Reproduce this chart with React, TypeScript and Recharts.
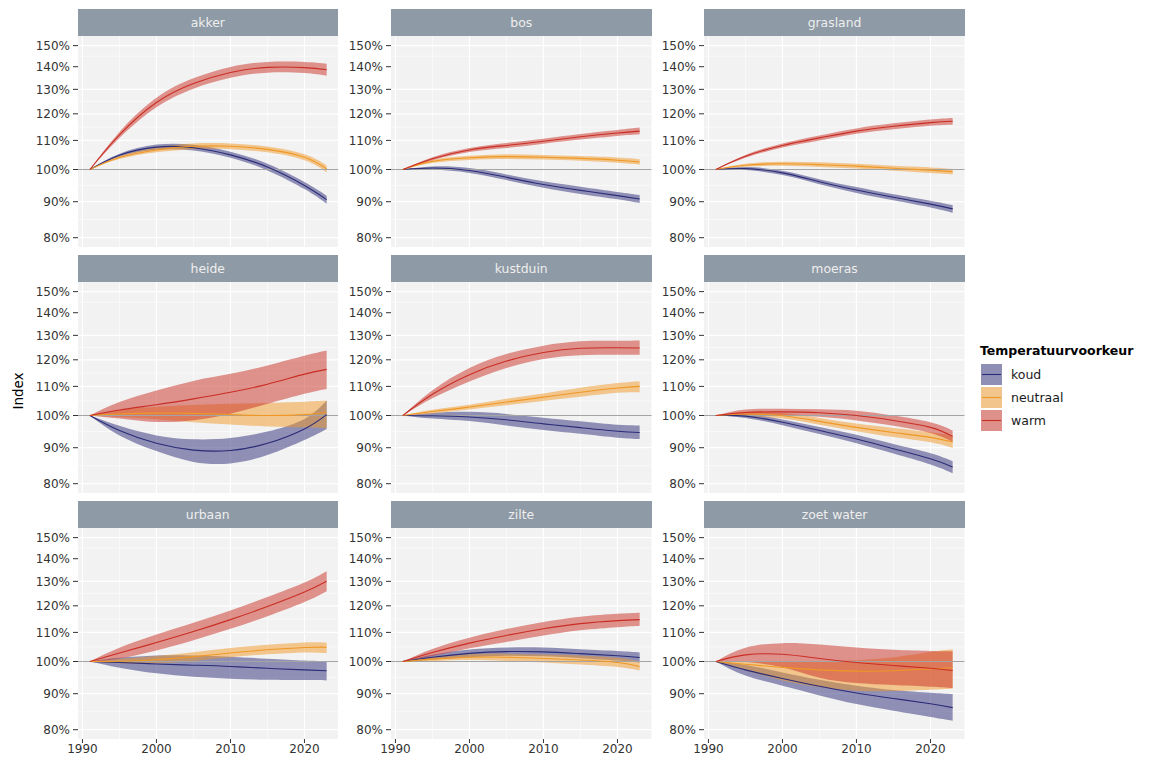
import React from 'react';
import { ComposedChart, Area, Line, XAxis, YAxis, CartesianGrid, ReferenceLine } from 'recharts';

const YEARS = [1991, 1995, 2000, 2005, 2010, 2015, 2020, 2023];
const Y_TICKS = [0.8, 0.9, 1.0, 1.1, 1.2, 1.3, 1.4, 1.5];
const Y_MINOR = [0.8485, 0.9487, 1.0488, 1.1489, 1.249, 1.3491, 1.4491];
const X_TICKS = [1990, 2000, 2010, 2020];
const X_MINOR = [1995, 2005, 2015];
const SERIES = ['koud', 'neutraal', 'warm'];
const COLORS: Record<string, string> = { koud: '#2b2b78', neutraal: '#ef9826', warm: '#c92e24' };

// akker
const akkerKoud = [1, 1.048, 1.076, 1.074, 1.049, 1.008, 0.949, 0.906];
const akkerKoudLo = [1, 1.043, 1.067, 1.064, 1.039, 0.997, 0.938, 0.894];
const akkerKoudHi = [1, 1.053, 1.085, 1.084, 1.06, 1.019, 0.96, 0.918];
const akkerNeutraal = [1, 1.04, 1.066, 1.079, 1.079, 1.068, 1.041, 1.002];
const akkerNeutraalLo = [1, 1.035, 1.058, 1.069, 1.069, 1.058, 1.031, 0.991];
const akkerNeutraalHi = [1, 1.045, 1.075, 1.089, 1.089, 1.078, 1.051, 1.013];
const akkerWarm = [1, 1.12, 1.245, 1.325, 1.374, 1.397, 1.396, 1.386];
const akkerWarmLo = [1, 1.109, 1.226, 1.303, 1.35, 1.373, 1.371, 1.359];
const akkerWarmHi = [1, 1.131, 1.265, 1.348, 1.399, 1.422, 1.422, 1.414];

// bos
const bosKoud = [1, 1.005, 0.997, 0.975, 0.952, 0.934, 0.918, 0.908];
const bosKoudLo = [1, 1.0, 0.989, 0.966, 0.942, 0.923, 0.907, 0.896];
const bosKoudHi = [1, 1.01, 1.005, 0.984, 0.962, 0.945, 0.929, 0.92];
const bosNeutraal = [1, 1.027, 1.039, 1.043, 1.041, 1.037, 1.031, 1.025];
const bosNeutraalLo = [1, 1.022, 1.032, 1.035, 1.033, 1.029, 1.022, 1.016];
const bosNeutraalHi = [1, 1.032, 1.046, 1.051, 1.049, 1.045, 1.04, 1.034];
const bosWarm = [1, 1.036, 1.066, 1.082, 1.097, 1.113, 1.127, 1.134];
const bosWarmLo = [1, 1.031, 1.059, 1.073, 1.088, 1.103, 1.116, 1.122];
const bosWarmHi = [1, 1.041, 1.073, 1.091, 1.106, 1.123, 1.138, 1.147];

// grasland
const graslandKoud = [1, 1.003, 0.989, 0.961, 0.935, 0.913, 0.893, 0.879];
const graslandKoudLo = [1, 0.998, 0.982, 0.953, 0.926, 0.904, 0.883, 0.868];
const graslandKoudHi = [1, 1.008, 0.996, 0.969, 0.944, 0.922, 0.903, 0.89];
const graslandNeutraal = [1, 1.014, 1.019, 1.016, 1.011, 1.004, 0.998, 0.993];
const graslandNeutraalLo = [1, 1.009, 1.012, 1.008, 1.003, 0.996, 0.989, 0.984];
const graslandNeutraalHi = [1, 1.019, 1.026, 1.024, 1.019, 1.012, 1.007, 1.002];
const graslandWarm = [1, 1.044, 1.082, 1.109, 1.134, 1.152, 1.166, 1.171];
const graslandWarmLo = [1, 1.039, 1.075, 1.1, 1.124, 1.141, 1.154, 1.158];
const graslandWarmHi = [1, 1.049, 1.089, 1.118, 1.144, 1.163, 1.178, 1.184];

// heide
const heideKoud = [1, 0.952, 0.913, 0.893, 0.892, 0.913, 0.957, 1.003];
const heideKoudLo = [1, 0.937, 0.89, 0.859, 0.855, 0.879, 0.923, 0.957];
const heideKoudHi = [1, 0.967, 0.937, 0.925, 0.929, 0.949, 0.989, 1.05];
const heideNeutraal = [1, 1.005, 1.008, 1.007, 1.003, 1.0, 1.003, 1.01];
const heideNeutraalLo = [1, 0.995, 0.988, 0.978, 0.971, 0.965, 0.962, 0.959];
const heideNeutraalHi = [1, 1.018, 1.029, 1.035, 1.039, 1.042, 1.046, 1.05];
const heideWarm = [1, 1.018, 1.036, 1.056, 1.079, 1.108, 1.145, 1.163];
const heideWarmLo = [1, 0.99, 0.979, 0.985, 1.006, 1.039, 1.074, 1.091];
const heideWarmHi = [1, 1.045, 1.085, 1.12, 1.146, 1.178, 1.216, 1.237];

// kustduin
const kustduinKoud = [1, 0.999, 0.995, 0.986, 0.973, 0.961, 0.95, 0.946];
const kustduinKoudLo = [1, 0.99, 0.982, 0.968, 0.954, 0.942, 0.93, 0.926];
const kustduinKoudHi = [1, 1.008, 1.012, 1.005, 0.993, 0.981, 0.97, 0.968];
const kustduinNeutraal = [1, 1.013, 1.028, 1.045, 1.062, 1.079, 1.094, 1.1];
const kustduinNeutraalLo = [1, 1.007, 1.02, 1.034, 1.049, 1.063, 1.077, 1.079];
const kustduinNeutraalHi = [1, 1.019, 1.036, 1.056, 1.075, 1.095, 1.112, 1.119];
const kustduinWarm = [1, 1.072, 1.143, 1.195, 1.229, 1.246, 1.248, 1.247];
const kustduinWarmLo = [1, 1.058, 1.118, 1.168, 1.203, 1.218, 1.22, 1.22];
const kustduinWarmHi = [1, 1.086, 1.168, 1.223, 1.257, 1.275, 1.277, 1.278];

// moeras
const moerasKoud = [1, 0.998, 0.978, 0.952, 0.926, 0.897, 0.868, 0.845];
const moerasKoudLo = [1, 0.992, 0.969, 0.941, 0.913, 0.883, 0.852, 0.828];
const moerasKoudHi = [1, 1.004, 0.987, 0.963, 0.939, 0.911, 0.884, 0.861];
const moerasNeutraal = [1, 1.005, 0.999, 0.981, 0.962, 0.946, 0.931, 0.917];
const moerasNeutraalLo = [1, 0.998, 0.99, 0.97, 0.95, 0.932, 0.916, 0.899];
const moerasNeutraalHi = [1, 1.012, 1.008, 0.992, 0.974, 0.96, 0.947, 0.937];
const moerasWarm = [1, 1.01, 1.012, 1.009, 1.0, 0.984, 0.962, 0.934];
const moerasWarmLo = [1, 1.0, 1.0, 0.996, 0.984, 0.967, 0.944, 0.917];
const moerasWarmHi = [1, 1.02, 1.022, 1.021, 1.016, 1.0, 0.978, 0.952];

// urbaan
const urbaanKoud = [1, 0.997, 0.992, 0.988, 0.984, 0.978, 0.973, 0.97];
const urbaanKoudLo = [1, 0.98, 0.962, 0.951, 0.945, 0.942, 0.941, 0.94];
const urbaanKoudHi = [1, 1.012, 1.02, 1.02, 1.016, 1.009, 1.003, 1.001];
const urbaanNeutraal = [1, 1.001, 1.006, 1.016, 1.028, 1.039, 1.047, 1.048];
const urbaanNeutraalLo = [1, 0.994, 0.994, 1.002, 1.014, 1.024, 1.03, 1.028];
const urbaanNeutraalHi = [1, 1.008, 1.018, 1.031, 1.045, 1.056, 1.064, 1.064];
const urbaanWarm = [1, 1.028, 1.064, 1.103, 1.147, 1.197, 1.255, 1.3];
const urbaanWarmLo = [1, 1.01, 1.037, 1.072, 1.113, 1.16, 1.215, 1.259];
const urbaanWarmHi = [1, 1.046, 1.092, 1.135, 1.182, 1.235, 1.295, 1.344];

// zilte
const zilteKoud = [1, 1.014, 1.027, 1.033, 1.032, 1.026, 1.019, 1.013];
const zilteKoudLo = [1, 1.006, 1.014, 1.019, 1.017, 1.011, 1.003, 0.997];
const zilteKoudHi = [1, 1.022, 1.04, 1.047, 1.047, 1.041, 1.035, 1.03];
const zilteNeutraal = [1, 1.008, 1.014, 1.014, 1.01, 1.005, 0.997, 0.984];
const zilteNeutraalLo = [1, 1.002, 1.005, 1.002, 0.997, 0.99, 0.982, 0.971];
const zilteNeutraalHi = [1, 1.014, 1.024, 1.026, 1.023, 1.02, 1.012, 1.0];
const zilteWarm = [1, 1.03, 1.062, 1.089, 1.113, 1.132, 1.143, 1.147];
const zilteWarmLo = [1, 1.018, 1.044, 1.066, 1.089, 1.108, 1.119, 1.124];
const zilteWarmHi = [1, 1.042, 1.081, 1.112, 1.138, 1.158, 1.169, 1.173];

// zoet water
const zoetKoud = [1, 0.973, 0.946, 0.922, 0.902, 0.886, 0.871, 0.86];
const zoetKoudLo = [1, 0.955, 0.924, 0.895, 0.87, 0.851, 0.834, 0.824];
const zoetKoudHi = [1, 0.989, 0.965, 0.942, 0.924, 0.911, 0.903, 0.899];
const zoetNeutraal = [1, 0.991, 0.981, 0.973, 0.969, 0.97, 0.976, 0.98];
const zoetNeutraalLo = [1, 0.972, 0.94, 0.92, 0.909, 0.908, 0.912, 0.915];
const zoetNeutraalHi = [1, 0.999, 1.0, 1.0, 1.004, 1.014, 1.032, 1.041];
const zoetWarm = [1, 1.022, 1.024, 1.01, 0.997, 0.987, 0.978, 0.971];
const zoetWarmLo = [1, 0.998, 0.981, 0.948, 0.932, 0.926, 0.921, 0.917];
const zoetWarmHi = [1, 1.046, 1.062, 1.057, 1.047, 1.039, 1.035, 1.034];

const PANELS = [
  { name: 'akker', koud: [akkerKoud, akkerKoudLo, akkerKoudHi], neutraal: [akkerNeutraal, akkerNeutraalLo, akkerNeutraalHi], warm: [akkerWarm, akkerWarmLo, akkerWarmHi] },
  { name: 'bos', koud: [bosKoud, bosKoudLo, bosKoudHi], neutraal: [bosNeutraal, bosNeutraalLo, bosNeutraalHi], warm: [bosWarm, bosWarmLo, bosWarmHi] },
  { name: 'grasland', koud: [graslandKoud, graslandKoudLo, graslandKoudHi], neutraal: [graslandNeutraal, graslandNeutraalLo, graslandNeutraalHi], warm: [graslandWarm, graslandWarmLo, graslandWarmHi] },
  { name: 'heide', koud: [heideKoud, heideKoudLo, heideKoudHi], neutraal: [heideNeutraal, heideNeutraalLo, heideNeutraalHi], warm: [heideWarm, heideWarmLo, heideWarmHi] },
  { name: 'kustduin', koud: [kustduinKoud, kustduinKoudLo, kustduinKoudHi], neutraal: [kustduinNeutraal, kustduinNeutraalLo, kustduinNeutraalHi], warm: [kustduinWarm, kustduinWarmLo, kustduinWarmHi] },
  { name: 'moeras', koud: [moerasKoud, moerasKoudLo, moerasKoudHi], neutraal: [moerasNeutraal, moerasNeutraalLo, moerasNeutraalHi], warm: [moerasWarm, moerasWarmLo, moerasWarmHi] },
  { name: 'urbaan', koud: [urbaanKoud, urbaanKoudLo, urbaanKoudHi], neutraal: [urbaanNeutraal, urbaanNeutraalLo, urbaanNeutraalHi], warm: [urbaanWarm, urbaanWarmLo, urbaanWarmHi] },
  { name: 'zilte', koud: [zilteKoud, zilteKoudLo, zilteKoudHi], neutraal: [zilteNeutraal, zilteNeutraalLo, zilteNeutraalHi], warm: [zilteWarm, zilteWarmLo, zilteWarmHi] },
  { name: 'zoet water', koud: [zoetKoud, zoetKoudLo, zoetKoudHi], neutraal: [zoetNeutraal, zoetNeutraalLo, zoetNeutraalHi], warm: [zoetWarm, zoetWarmLo, zoetWarmHi] },
];

const FONT = '"DejaVu Sans", Verdana, sans-serif';
const COL_LEFT = [77.5, 391, 704.3];
const ROW_TOP = [35.5, 281.5, 527.5];
const PLOT_W = 260.5;
const PLOT_H = 211;
const YAXIS_W = 60;
const STRIP_H = 27;
const PANEL_BG = '#f2f2f2';
const CURVE = 'natural';

const pct = (v: number) => `${Math.round(v * 100)}%`;

function Panel({ panel, idx }: { panel: any; idx: number }) {
  const col = idx % 3;
  const row = Math.floor(idx / 3);
  const bottom = row === 2;
  const data = YEARS.map((year, i) => {
    const o: any = { year };
    SERIES.forEach((s) => {
      o[s] = panel[s][0][i];
      o[s + 'R'] = [panel[s][1][i], panel[s][2][i]];
    });
    return o;
  });
  const left = COL_LEFT[col];
  const top = ROW_TOP[row];
  return (
    <>
      <div
        style={{
          position: 'absolute',
          left,
          top: top - STRIP_H,
          width: PLOT_W,
          height: STRIP_H,
          background: '#8e9aa5',
          color: '#eeeeee',
          fontFamily: FONT,
          fontSize: 12.4,
          lineHeight: `${STRIP_H}px`,
          textAlign: 'center',
        }}
      >
        {panel.name}
      </div>
      <div style={{ position: 'absolute', left: left - YAXIS_W, top }}>
        <ComposedChart
          width={YAXIS_W + PLOT_W}
          height={PLOT_H + (bottom ? 26 : 0)}
          data={data}
          margin={{ top: 0, right: 0, bottom: 0, left: 0 }}
        >
          <CartesianGrid
            fill={PANEL_BG}
            fillOpacity={1}
            stroke="#ffffff"
            strokeWidth={0.6}
            horizontalValues={Y_MINOR}
            verticalValues={X_MINOR}
          />
          <CartesianGrid
            stroke="#ffffff"
            strokeWidth={1.2}
            horizontalValues={Y_TICKS}
            verticalValues={X_TICKS}
          />
          <XAxis
            dataKey="year"
            type="number"
            domain={[1989.4, 2024.6]}
            allowDataOverflow
            ticks={X_TICKS}
            hide={!bottom}
            height={26}
            axisLine={false}
            tickLine={{ stroke: '#333333' }}
            tickSize={4}
            tickMargin={1}
            tick={{ fill: '#333333', fontSize: 12, fontFamily: FONT }}
          />
          <YAxis
            scale="log"
            type="number"
            domain={[0.776, 1.548]}
            allowDataOverflow
            ticks={Y_TICKS}
            tickFormatter={pct}
            width={YAXIS_W}
            axisLine={false}
            tickLine={{ stroke: '#333333' }}
            tickSize={5}
            tickMargin={3}
            tick={{ fill: '#333333', fontSize: 12, fontFamily: FONT }}
          />
          {SERIES.map((s) => (
            <Area
              key={s + 'R'}
              dataKey={s + 'R'}
              type={CURVE}
              stroke="none"
              fill={COLORS[s]}
              fillOpacity={0.5}
              isAnimationActive={false}
              dot={false}
              activeDot={false}
            />
          ))}
          <ReferenceLine y={1} stroke="#a4a4a4" strokeWidth={1.2} />
          {SERIES.map((s) => (
            <Line
              key={s}
              dataKey={s}
              type={CURVE}
              stroke={COLORS[s]}
              strokeWidth={1.1}
              dot={false}
              activeDot={false}
              isAnimationActive={false}
            />
          ))}
        </ComposedChart>
      </div>
    </>
  );
}

function Legend() {
  const items = ['koud', 'neutraal', 'warm'];
  return (
    <svg
      width={1152}
      height={768}
      style={{ position: 'absolute', left: 0, top: 0, pointerEvents: 'none' }}
    >
      <text
        x={18}
        y={391}
        transform="rotate(-90 18 391)"
        textAnchor="middle"
        dominantBaseline="central"
        fontFamily={FONT}
        fontSize={13.5}
        fill="#000000"
      >
        Index
      </text>
      <text x={980} y={350} dominantBaseline="central" fontFamily={FONT} fontSize={12.5} fontWeight="bold" fill="#000000">
        Temperatuurvoorkeur
      </text>
      {items.map((s, i) => {
        const y = 364 + i * 23;
        return (
          <g key={s}>
            <rect x={981} y={y} width={21} height={21} fill={PANEL_BG} />
            <rect x={981} y={y} width={21} height={21} fill={COLORS[s]} fillOpacity={0.5} />
            <line x1={982} x2={1001} y1={y + 10.5} y2={y + 10.5} stroke={COLORS[s]} strokeWidth={1.1} />
            <text x={1011} y={y + 10.5} dominantBaseline="central" fontFamily={FONT} fontSize={12.5} fill="#1a1a1a">
              {s}
            </text>
          </g>
        );
      })}
    </svg>
  );
}

export default function App() {
  return (
    <div style={{ position: 'absolute', left: 0, top: 0, width: 1152, height: 768, background: '#ffffff' }}>
      {PANELS.map((p, i) => (
        <Panel key={p.name} panel={p} idx={i} />
      ))}
      <Legend />
    </div>
  );
}
